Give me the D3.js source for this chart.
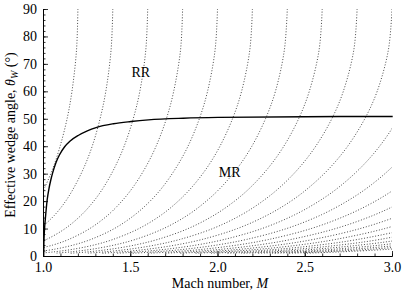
<!DOCTYPE html>
<html>
<head>
<meta charset="utf-8">
<script src="https://cdn.jsdelivr.net/npm/d3@7"></script>
<style>
  html, body { margin: 0; padding: 0; background: #fff; }
  svg { display: block; }
  text { font-family: "Liberation Serif", "DejaVu Serif", serif; fill: #000; }
</style>
</head>
<body>
<svg id="chart" width="402" height="292"></svg>
<script>
// ---- data ----
const xTicks = [1.0, 1.5, 2.0, 2.5, 3.0];
const yTicks = [0, 10, 20, 30, 40, 50, 60, 70, 80, 90];

// solid transition line (RR <-> MR)
const boundaryMach  = [1.0, 1.001, 1.003, 1.006, 1.01, 1.02, 1.03, 1.04, 1.05, 1.07, 1.09, 1.12, 1.15, 1.2, 1.25, 1.3, 1.4, 1.5, 1.6, 1.8, 2.0, 2.5, 3.0];
const boundaryTheta = [0, 4.5, 7.8, 11, 14, 20.5, 24.5, 27.5, 30, 34, 36.8, 39.8, 41.8, 44.0, 45.6, 46.8, 48.2, 49.0, 49.6, 50.2, 50.5, 50.75, 50.85];

// dotted family: wedge angles shared by every curve, and the Mach number of each curve at those angles
const dottedTheta = [90, 75, 60, 50, 40, 32, 25, 20, 15, 10, 6, 4, 2.5, 1.5, 1];
const dottedMach = [
  [1.2, 1.192, 1.166, 1.138, 1.098, 1.057, 1.010, 0.968],
  [1.4, 1.390, 1.360, 1.327, 1.282, 1.233, 1.178, 1.130, 1.068, 0.986],
  [1.6, 1.589, 1.555, 1.517, 1.465, 1.409, 1.347, 1.291, 1.221, 1.127, 1.019, 0.939],
  [1.8, 1.788, 1.749, 1.707, 1.648, 1.585, 1.515, 1.452, 1.374, 1.268, 1.146, 1.057, 0.962],
  [2.0, 1.986, 1.943, 1.896, 1.831, 1.761, 1.684, 1.614, 1.526, 1.409, 1.273, 1.174, 1.069, 0.965],
  [2.2, 2.185, 2.138, 2.086, 2.014, 1.938, 1.852, 1.775, 1.679, 1.550, 1.400, 1.292, 1.176, 1.062, 0.979],
  [2.4, 2.383, 2.332, 2.275, 2.197, 2.114, 2.020, 1.936, 1.832, 1.691, 1.528, 1.409, 1.283, 1.158, 1.068],
  [2.6, 2.582, 2.526, 2.465, 2.380, 2.290, 2.189, 2.098, 1.984, 1.832, 1.655, 1.527, 1.390, 1.255, 1.157],
  [2.8, 2.781, 2.721, 2.655, 2.563, 2.466, 2.357, 2.259, 2.137, 1.973, 1.782, 1.644, 1.497, 1.351, 1.246],
  [3.0, 2.979, 2.915, 2.844, 2.746, 2.642, 2.525, 2.421, 2.289, 2.114, 1.910, 1.761, 1.603, 1.448, 1.335],
  [3.2, 3.178, 3.109, 3.034, 2.929, 2.818, 2.694, 2.582, 2.442, 2.255, 2.037, 1.879, 1.710, 1.544, 1.424],
  [null, 3.377, 3.304, 3.224, 3.112, 2.994, 2.862, 2.743, 2.595, 2.396, 2.164, 1.996, 1.817, 1.641, 1.513],
  [null, null, null, null, null, 3.171, 3.030, 2.905, 2.747, 2.537, 2.292, 2.114, 1.924, 1.737, 1.602],
  [null, null, null, null, null, null, 3.199, 3.066, 2.900, 2.677, 2.419, 2.231, 2.031, 1.834, 1.691],
  [null, null, null, null, null, null, null, 3.228, 3.053, 2.818, 2.546, 2.348, 2.138, 1.930, 1.780],
  [null, null, null, null, null, null, null, null, 3.205, 2.959, 2.674, 2.466, 2.245, 2.027, 1.869],
  [null, null, null, null, null, null, null, null, 3.358, 3.100, 2.801, 2.583, 2.352, 2.123, 1.958],
  [null, null, null, null, null, null, null, null, null, 3.241, 2.928, 2.701, 2.459, 2.220, 2.047],
  [null, null, null, null, null, null, null, null, null, 3.382, 3.056, 2.818, 2.566, 2.316, 2.136],
  [null, null, null, null, null, null, null, null, null, null, 3.183, 2.936, 2.672, 2.413, 2.225],
  [null, null, null, null, null, null, null, null, null, null, 3.310, 3.053, 2.779, 2.510, 2.314],
  [null, null, null, null, null, null, null, null, null, null, null, 3.170, 2.886, 2.606, 2.403],
  [null, null, null, null, null, null, null, null, null, null, null, 3.288, 2.993, 2.703, 2.492]
];

const regionLabels = ["RR", "MR"];
const regionLabelMach = [1.56, 2.07];
const regionLabelTheta = [65.2, 28.8];

// ---- drawing ----
const svg = d3.select("#chart");
const x = d3.scaleLinear().domain([1, 3]).range([43, 392]);
const y = d3.scaleLinear().domain([0, 90]).range([256, 9]);

svg.append("defs").append("clipPath").attr("id", "plotclip")
  .append("rect")
  .attr("x", x(1)).attr("y", y(90))
  .attr("width", x(3) - x(1)).attr("height", y(0) - y(90));

const plot = svg.append("g").attr("clip-path", "url(#plotclip)");

const dottedLine = d3.line()
  .x(d => x(d[0])).y(d => y(d[1]))
  .curve(d3.curveCatmullRom.alpha(0.5));

dottedMach.forEach(curve => {
  const pts = curve.map((m, i) => [m, dottedTheta[i]]).filter(d => d[0] != null);
  plot.append("path")
    .attr("d", dottedLine(pts))
    .attr("fill", "none")
    .attr("stroke", "#4a4a4a")
    .attr("stroke-width", 1)
    .attr("stroke-dasharray", "1,1.8");
});

const solidLine = d3.line()
  .x(d => x(d[0])).y(d => y(d[1]))
  .curve(d3.curveMonotoneX);
svg.append("path")
  .attr("d", solidLine(boundaryMach.map((m, i) => [m, boundaryTheta[i]])))
  .attr("fill", "none")
  .attr("stroke", "#000")
  .attr("stroke-width", 1.4)
  .attr("transform", "translate(0.7,0)");

// axes
const xAxis = d3.axisBottom(x).tickValues(xTicks).tickFormat(d3.format(".1f"))
  .tickSizeInner(-5).tickSizeOuter(0).tickPadding(6);
const xMinor = d3.axisBottom(x).tickValues(d3.range(1, 3.001, 0.1))
  .tickFormat("").tickSizeInner(-2.5).tickSizeOuter(0);
const yAxis = d3.axisLeft(y).tickValues(yTicks).tickFormat(d3.format("d"))
  .tickSizeInner(-5).tickSizeOuter(0).tickPadding(6);
const yMinor = d3.axisLeft(y).tickValues(d3.range(0, 90.001, 2))
  .tickFormat("").tickSizeInner(-2.5).tickSizeOuter(0);

function styleAxis(g) {
  g.selectAll("path.domain").attr("stroke", "#000").attr("stroke-width", 1);
  g.selectAll("line").attr("stroke", "#000").attr("stroke-width", 0.8);
  g.selectAll("text").style("font-family", '"Liberation Serif", serif').style("font-size", "14px").attr("fill", "#000");
}

svg.append("g").attr("transform", `translate(0,${y(0)})`).call(xMinor).call(styleAxis);
svg.append("g").attr("transform", `translate(0,${y(0)})`).call(xAxis).call(styleAxis);
svg.append("g").attr("transform", `translate(${x(1)},0)`).call(yMinor).call(styleAxis);
svg.append("g").attr("transform", `translate(${x(1)},0)`).call(yAxis).call(styleAxis);

// region labels
regionLabels.forEach((t, i) => {
  svg.append("text")
    .attr("x", x(regionLabelMach[i])).attr("y", y(regionLabelTheta[i]))
    .attr("text-anchor", "middle")
    .style("font-size", "14px")
    .text(t);
});

// axis titles
const xt = svg.append("text")
  .attr("x", 220).attr("y", 288)
  .attr("text-anchor", "middle")
  .style("font-size", "14px");
xt.append("tspan").text("Mach number, ");
xt.append("tspan").style("font-style", "italic").text("M");

const yt = svg.append("text")
  .attr("transform", "translate(15,135) rotate(-90)")
  .attr("text-anchor", "middle")
  .style("font-size", "14px");
yt.append("tspan").text("Effective wedge angle, ");
yt.append("tspan").style("font-style", "italic").text("θ");
yt.append("tspan").style("font-style", "italic").style("font-size", "10px").attr("dy", 3).text("W");
yt.append("tspan").attr("dy", -3).text(" (°)");
</script>
</body>
</html>
